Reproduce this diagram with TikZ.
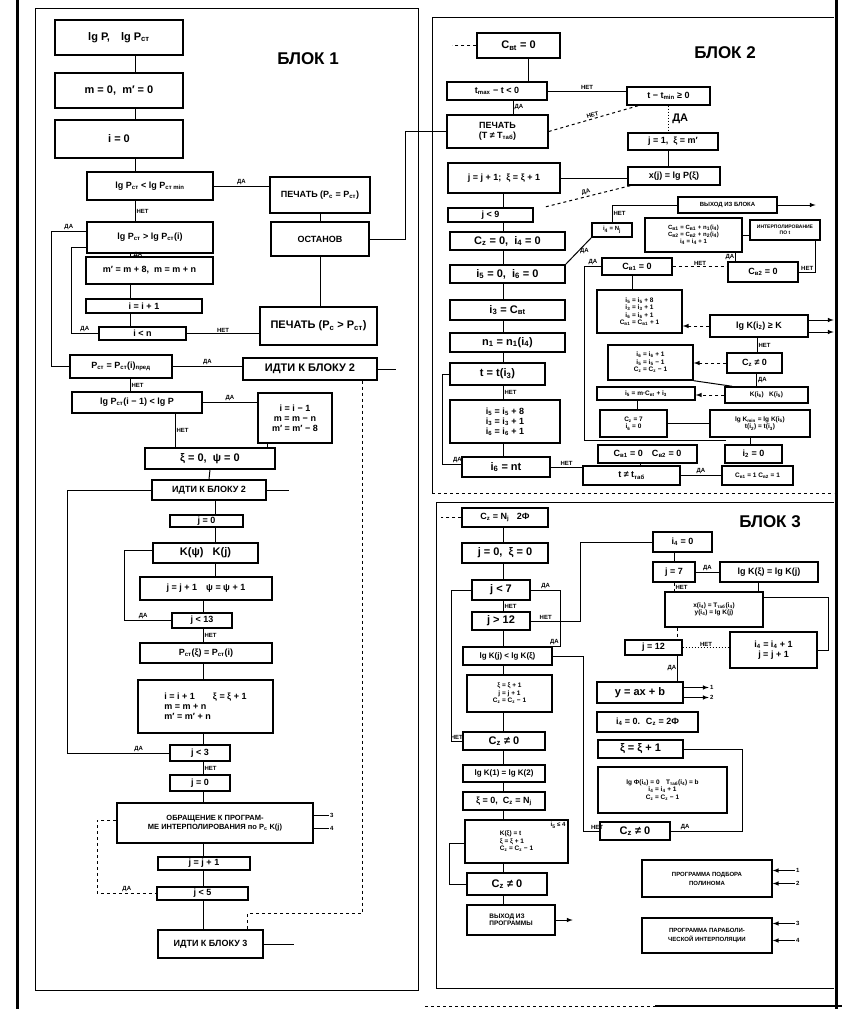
\documentclass[tikz,border=0pt]{standalone}
\usepackage{fontspec}
\setmainfont{Liberation Sans}
\usepackage{tikz}
\usetikzlibrary{shapes,arrows,positioning}
\newcommand{\ix}[1]{\textsubscript{#1}}

\begin{document}
\begin{tikzpicture}[x=1pt, y=-1pt, >=latex]
    \tikzstyle{box} = [rectangle, draw=black, line width=1.4pt, inner sep=1pt, align=center, font=\bfseries\fontsize{9}{10}\selectfont]
    \tikzstyle{bigbox} = [box, font=\bfseries\fontsize{11}{12}\selectfont]
    \tikzstyle{mbox} = [box, font=\bfseries\fontsize{8}{9}\selectfont]
    \tikzstyle{sbox} = [box, font=\bfseries\fontsize{6.5}{7.5}\selectfont]
    \tikzstyle{tbox} = [box, font=\bfseries\fontsize{5}{6}\selectfont]
    \tikzstyle{lbl} = [inner sep=1pt, font=\bfseries\fontsize{6}{6}\selectfont]
    \tikzstyle{wire} = [line width=1pt]
    \tikzstyle{frame} = [line width=1pt]
    \tikzstyle{title} = [font=\bfseries\fontsize{17}{17}\selectfont]

    \useasboundingbox (0,0) rectangle (842,1009);

    % page and block frames
    \draw[line width=3pt] (17,0) -- (17,1009);
    \draw[line width=3pt] (836,0) -- (836,1009);
    \draw[line width=2.5pt] (655,1006) -- (842,1006);
    \draw[frame, dashed] (425,1006) -- (655,1006);
    \draw[frame] (35,8) rectangle (418,990);
    \draw[frame] (432,493) -- (432,17) -- (834,17);
    \draw[frame, dashed] (432,493) -- (834,493);
    \draw[frame] (436,988) -- (436,502) -- (834,502);
    \draw[frame] (436,988) -- (834,988);

    \node[title] (t1) at (308,59) {БЛОК 1};
    \node[title] (t2) at (725,53) {БЛОК 2};
    \node[title] (t3) at (770,522) {БЛОК 3};

    % block 1
    \node[bigbox, minimum width=128, minimum height=35] (lgp) at (119,37.5) {lg P,\quad lg P\ix{ст}};
    \node[bigbox, minimum width=128, minimum height=35] (mm) at (119,90.5) {m = 0,\; m′ = 0};
    \node[bigbox, minimum width=128, minimum height=38] (i0) at (119,139) {i = 0};
    \node[box, minimum width=126, minimum height=28] (b4) at (150,186) {lg P\ix{ст} < lg P\ix{ст min}};
    \node[box, minimum width=100, minimum height=36] (p1) at (320,195) {ПЕЧАТЬ (P\ix{с} = P\ix{ст})};
    \node[box, minimum width=98, minimum height=34] (ost) at (320,239) {ОСТАНОВ};
    \node[box, minimum width=126, minimum height=31] (b5) at (150,237.5) {lg P\ix{ст} > lg P\ix{ст}(i)};
    \node[box, minimum width=127, minimum height=27] (b6) at (149.5,270.5) {m′ = m + 8,\; m = m + n};
    \node[box, minimum width=116, minimum height=14] (b7) at (144,306) {i = i + 1};
    \node[box, minimum width=87, minimum height=13] (b8) at (142.5,333.5) {i < n};
    \node[bigbox, minimum width=117, minimum height=38] (p2) at (318.5,326) {ПЕЧАТЬ (P\ix{с} > P\ix{ст})};
    \node[box, minimum width=102, minimum height=23] (b9) at (121,366.5) {P\ix{ст} = P\ix{ст}(i)\ix{пред}};
    \node[bigbox, minimum width=134, minimum height=22] (g2a) at (310,369) {ИДТИ К БЛОКУ 2};
    \node[box, minimum width=130, minimum height=21] (b10) at (137,402.5) {lg P\ix{ст}(i − 1) < lg P};
    \node[box, minimum width=74, minimum height=50] (b11) at (295,418) {i = i − 1\\ m = m − n\\ m′ = m′ − 8};
    \node[bigbox, minimum width=130, minimum height=21] (b12) at (210,458.5) {ξ = 0,\; ψ = 0};
    \node[box, minimum width=114, minimum height=20] (g2b) at (209,490) {ИДТИ К БЛОКУ 2};
    \node[box, minimum width=73, minimum height=12] (b13) at (206.5,521) {j = 0};
    \node[bigbox, minimum width=105, minimum height=20] (b14) at (205.5,553) {K(ψ)\;\; K(j)};
    \node[box, minimum width=132, minimum height=23] (b15) at (206,588.5) {j = j + 1\quad ψ = ψ + 1};
    \node[box, minimum width=60, minimum height=15] (b16) at (202,620.5) {j < 13};
    \node[box, minimum width=132, minimum height=20] (b17) at (206,653) {P\ix{ст}(ξ) = P\ix{ст}(i)};
    \node[box, minimum width=135, minimum height=53, align=left] (b18) at (205.5,706.5) {i = i + 1\qquad ξ = ξ + 1\\ m = m + n\\ m′ = m′ + n};
    \node[box, minimum width=60, minimum height=16] (b19) at (200,753) {j < 3};
    \node[box, minimum width=60, minimum height=16] (b20) at (200,783) {j = 0};
    \node[box, minimum width=196, minimum height=40, font=\bfseries\fontsize{7.5}{9}\selectfont] (b21) at (215,823) {ОБРАЩЕНИЕ К ПРОГРАМ-\\МЕ ИНТЕРПОЛИРОВАНИЯ по P\ix{с} K(j)};
    \node[box, minimum width=92, minimum height=13] (b22) at (204,863.5) {j = j + 1};
    \node[box, minimum width=91, minimum height=13] (b23) at (202.5,893.5) {j < 5};
    \node[box, minimum width=105, minimum height=28] (g3) at (210.5,944) {ИДТИ К БЛОКУ 3};

    \coordinate (k1) at (135,0);
    \coordinate (k2) at (130,0);
    \coordinate (k3) at (215,0);
    \coordinate (k4) at (203,0);
    \coordinate (k5) at (175,0);

    \draw[wire] (lgp.south -| k1) -- (mm.north -| k1);
    \draw[wire] (mm.south -| k1) -- (i0.north -| k1);
    \draw[wire] (i0.south -| k1) -- (b4.north -| k1);
    \draw[wire] (b4.south -| k1) -- (b5.north -| k1) node[lbl, midway, right] {НЕТ};
    \draw[wire] (b4.east) -- (b4.east -| p1.west) node[lbl, midway, above] {ДА};
    \draw[wire] (p1.south) -- (ost.north);
    \draw[wire] (ost.south) -- (ost.south |- p2.north);
    \draw[wire] (b5.south -| k2) -- (b6.north -| k2) node[lbl, midway, right, xshift=2] {ДА};
    \draw[wire] (b6.south -| k2) -- (b7.north -| k2);
    \draw[wire] (b7.south -| k2) -- (b8.north -| k2);
    \draw[wire] (b8.west) -- ++(-27,0) node[lbl, midway, above] {ДА} |- ([yshift=6]b5.south west);
    \draw[wire] ([yshift=-10]b5.north west) -- ++(-35,0) node[lbl, midway, above] {ДА} |- (b9.west);
    \draw[wire] (b8.east) -- (b8.east -| p2.west) node[lbl, midway, above] {НЕТ};
    \draw[wire] (b9.east) -- (b9.east -| g2a.west) node[lbl, midway, above] {ДА};
    \draw[wire] (g2a.east) -- ++(18,0);
    \draw[wire, dashed] ([xshift=52]g2a.south) -- ++(0,533) -| ([xshift=37]g3.north);
    \draw[wire] (b9.south -| k2) -- (b10.north -| k2) node[lbl, midway, right] {НЕТ};
    \draw[wire] (b10.east) -- (b10.east -| b11.west) node[lbl, midway, above] {ДА};
    \draw[wire] (b10.south -| k5) -- (b12.north -| k5) node[lbl, midway, right] {НЕТ};
    \draw[wire] ([xshift=-28]b11.south) -- ([xshift=-28]b11.south |- b12.north);
    \draw[wire] (b12.south) -- (g2b.north);
    \draw[wire] (g2b.east) -- ++(22,0);
    \draw[wire] (g2b.west) -- ++(-84,0) |- (b19.west) node[lbl, pos=0.85, above] {ДА};
    \draw[wire] (g2b.south -| k3) -- (b13.north -| k3);
    \draw[wire] (b13.south -| k3) -- (b14.north -| k3);
    \draw[wire] (b14.south -| k3) -- (b15.north -| k3);
    \draw[wire] ([yshift=3]b14.west) -- ++(-28,0) |- (b16.west) node[lbl, pos=0.7, above] {ДА};
    \draw[wire] (b15.south -| k4) -- (b16.north -| k4);
    \draw[wire] (b16.south -| k4) -- (b17.north -| k4) node[lbl, midway, right] {НЕТ};
    \draw[wire] (b17.south -| k4) -- (b18.north -| k4);
    \draw[wire] (b18.south -| k4) -- (b19.north -| k4);
    \draw[wire] (b19.south -| k4) -- (b20.north -| k4) node[lbl, midway, right] {НЕТ};
    \draw[wire] (b20.south -| k4) -- (b21.north -| k4);
    \draw[wire] (b21.south -| k4) -- (b22.north -| k4);
    \draw[wire] (b22.south -| k4) -- (b23.north -| k4);
    \draw[wire] (b23.south -| k4) -- (g3.north -| k4);
    \draw[wire] ([yshift=8]b21.east) -- ++(15,0) node[lbl, right] {3};
    \draw[wire] ([yshift=-5]b21.east) -- ++(15,0) node[lbl, right] {4};
    \draw[wire, dashed] ([yshift=3]b21.west) -- ++(-19,0) |- (b23.west) node[lbl, pos=0.75, above] {ДА};
    \draw[wire] (g3.east) -- ++(30,0);

    % block 2
    \node[bigbox, minimum width=83, minimum height=25] (c0) at (518.5,45.5) {C\ix{вt} = 0};
    \node[box, minimum width=100, minimum height=18] (c1) at (497,91) {t\ix{max} − t < 0};
    \node[box, minimum width=101, minimum height=33] (pT) at (497.5,131.5) {ПЕЧАТЬ\\(T ≠ T\ix{таб})};
    \node[box, minimum width=83, minimum height=18] (tmin) at (668.5,96) {t − t\ix{min} ≥ 0};
    \node[box, minimum width=90, minimum height=17] (j1) at (673,141.5) {j = 1,\; ξ = m′};
    \node[box, minimum width=92, minimum height=18] (xj) at (674,176) {x(j) = lg P(ξ)};
    \node[box, minimum width=112, minimum height=30] (jj) at (504,178) {j = j + 1;\; ξ = ξ + 1};
    \node[box, minimum width=85, minimum height=14] (j9) at (490.5,215) {j < 9};
    \node[bigbox, minimum width=115, minimum height=18] (cz) at (507.5,241) {C\ix{z} = 0,\; i\ix4 = 0};
    \node[bigbox, minimum width=115, minimum height=18] (i56) at (507.5,274) {i\ix5 = 0,\; i\ix6 = 0};
    \node[bigbox, minimum width=115, minimum height=20] (i3) at (507.5,310) {i\ix3 = C\ix{вt}};
    \node[bigbox, minimum width=115, minimum height=19] (n1) at (507.5,342.5) {n\ix1 = n\ix1(i\ix4)};
    \node[bigbox, minimum width=95, minimum height=22] (tt) at (497.5,374) {t = t(i\ix3)};
    \node[box, minimum width=110, minimum height=43] (inc) at (505,421.5) {i\ix5 = i\ix5 + 8\\ i\ix3 = i\ix3 + 1\\ i\ix6 = i\ix6 + 1};
    \node[bigbox, minimum width=88, minimum height=20] (i6n) at (506,467) {i\ix6 = nt};
    \node[tbox, minimum width=99, minimum height=16, font=\bfseries\fontsize{6}{7}\selectfont] (vyx) at (727.5,205) {ВЫХОД ИЗ БЛОКА};
    \node[tbox, minimum width=40, minimum height=14, font=\bfseries\fontsize{6}{7}\selectfont] (i4N) at (612,230) {i\ix4 = N\ix j};
    \node[tbox, minimum width=97, minimum height=34, font=\bfseries\fontsize{6}{7}\selectfont] (cin) at (693.5,235) {C\ix{в1} = C\ix{в1} + n\ix1(i\ix4)\\ C\ix{в2} = C\ix{в2} + n\ix2(i\ix4)\\ i\ix4 = i\ix4 + 1};
    \node[tbox, minimum width=70, minimum height=20] (ipol) at (785,230) {ИНТЕРПОЛИРОВАНИЕ\\ ПО t};
    \node[box, minimum width=70, minimum height=17] (cv1) at (637,266.5) {C\ix{в1} = 0};
    \node[box, minimum width=70, minimum height=20] (cv2) at (763,272) {C\ix{в2} = 0};
    \node[sbox, minimum width=85, minimum height=43] (ii5) at (639.5,311.5) {i\ix5 = i\ix5 + 8\\ i\ix3 = i\ix3 + 1\\ i\ix6 = i\ix6 + 1\\ C\ix{в1} = C\ix{в1} + 1};
    \node[box, minimum width=98, minimum height=22] (lgK) at (759,326) {lg K(i\ix2) ≥ K};
    \node[sbox, minimum width=85, minimum height=35] (ii6) at (650.5,362.5) {i\ix6 = i\ix6 + 1\\ i\ix5 = i\ix5 − 1\\ C\ix{z} = C\ix{z} − 1};
    \node[box, minimum width=55, minimum height=20] (cn0) at (754.5,363) {C\ix{z} ≠ 0};
    \node[sbox, minimum width=98, minimum height=13] (i15) at (646,393.5) {i\ix5 = m·C\ix{вt} + i\ix3};
    \node[sbox, minimum width=83, minimum height=16] (Kii) at (766.5,395) {K(i\ix6)\;\; K(i\ix5)};
    \node[sbox, minimum width=67, minimum height=27] (cz7) at (633.5,423.5) {C\ix{z} = 7\\ i\ix6 = 0};
    \node[sbox, minimum width=100, minimum height=27] (lgKm) at (760,423.5) {lg K\ix{min} = lg K(i\ix5)\\ t(i\ix2) = t(i\ix3)};
    \node[box, minimum width=99, minimum height=18] (cc0) at (647.5,454) {C\ix{в1} = 0\quad C\ix{в2} = 0};
    \node[box, minimum width=57, minimum height=18] (i2) at (753.5,454) {i\ix2 = 0};
    \node[box, minimum width=97, minimum height=19] (tnt) at (631.5,475.5) {t ≠ t\ix{таб}};
    \node[sbox, minimum width=71, minimum height=19] (cc1) at (757.5,475.5) {C\ix{в1} = 1 C\ix{в2} = 1};

    \coordinate (k6) at (503,0);

    \draw[wire] (ost.east) -- ++(36,0) |- (pT.west);
    \draw[wire, dashed] (c0.west) -- ++(-24,0);
    \draw[wire] ([xshift=10]c0.south) -- ([xshift=10]c0.south |- c1.north);
    \draw[wire] ([xshift=16]c1.south) -- ([xshift=16]c1.south |- pT.north) node[lbl, midway, right] {ДА};
    \draw[wire] (c1.east) -- (c1.east -| tmin.west) node[lbl, midway, above] {НЕТ};
    \draw[wire, dashed] (pT.east) -- ([xshift=12]tmin.south west) node[lbl, midway, above, sloped] {НЕТ};
    \draw[wire, dotted] (tmin.south) -- (tmin.south |- j1.north) node[midway, right, font=\bfseries\fontsize{11}{11}\selectfont] {ДА};
    \draw[wire] (j1.south -| tmin.south) -- (xj.north -| tmin.south);
    \draw[wire] (jj.east) -- (jj.east -| xj.west);
    \draw[wire, dashed] ([xshift=3]xj.south west) -- ([xshift=10]j9.north east) node[lbl, midway, above, sloped] {ДА};
    \draw[wire] (jj.south -| k6) -- (j9.north -| k6);
    \draw[wire] (j9.south -| k6) -- (cz.north -| k6);
    \draw[wire] (cz.south -| k6) -- (i56.north -| k6);
    \draw[wire] (i56.south -| k6) -- (i3.north -| k6);
    \draw[wire] (i3.south -| k6) -- (n1.north -| k6);
    \draw[wire] (n1.south -| k6) -- (tt.north -| k6);
    \draw[wire] (tt.south -| k6) -- (inc.north -| k6) node[lbl, midway, right] {НЕТ};
    \draw[wire] (inc.south -| k6) -- (i6n.north -| k6);
    \draw[wire] (tt.west) -- ++(-7,0) |- ([yshift=3]i6n.west) node[lbl, pos=0.9, above] {ДА};
    \draw[wire] (i6n.east) -- (i6n.east -| tnt.west) node[lbl, midway, above] {НЕТ};
    \draw[wire] (tnt.east) -- (tnt.east -| cc1.west) node[lbl, midway, above] {ДА};
    \draw[wire] (i56.north east) -- (i4N.south west) node[lbl, midway, right] {ДА};
    \draw[wire] (i4N.north) |- (vyx.west) node[lbl, pos=0.25, right] {НЕТ};
    \draw[wire, ->] (vyx.east) -- ++(38,0);
    \draw[wire] (cin.east) -- (cin.east -| ipol.west);
    \draw[wire] ([xshift=-7]cin.south east) -- ([xshift=-7]cin.south east |- cv2.north) node[lbl, midway, left] {ДА};
    \draw[wire] ([xshift=-5]ipol.south east) |- (cv2.east) node[lbl, pos=0.75, above] {НЕТ};
    \draw[wire, dashed] (cv1.east) -- (cv1.east -| cv2.west) node[lbl, midway, above] {НЕТ};
    \draw[wire] (cv1.west) -- ++(-17,0) node[lbl, midway, above] {ДА} |- ([xshift=2,yshift=4]i2.north west);
    \draw[wire] ([xshift=-5]cv1.south) -- ([xshift=-5]cv1.south |- ii5.north);
    \draw[wire, dashed, ->] (lgK.west) -- (lgK.west -| ii5.east);
    \draw[wire, ->] ([yshift=6]lgK.east) -- ++(25,0);
    \draw[wire, ->] ([yshift=-6]lgK.east) -- ++(25,0);
    \draw[wire] ([xshift=-2]lgK.south) -- ([xshift=-2]lgK.south |- cn0.north) node[lbl, midway, right] {НЕТ};
    \draw[wire, dashed, ->] (cn0.west) -- (cn0.west -| ii6.east);
    \draw[wire] ([xshift=2]cn0.south) -- ([xshift=2]cn0.south |- Kii.north) node[lbl, midway, right] {ДА};
    \draw[wire] (ii6.south east) -- ([xshift=8]Kii.north west);
    \draw[wire, dashed, ->] (Kii.west) -- (Kii.west -| i15.east);
    \draw[wire] ([xshift=-9]i15.south) -- ([xshift=-9]i15.south |- cz7.north);
    \draw[wire] (cz7.east) -- (cz7.east -| lgKm.west);
    \draw[wire] ([xshift=-10]lgKm.south) -- ([xshift=-10]lgKm.south |- i2.north);
    \draw[wire] ([xshift=-7]cc0.south) -- ([xshift=-7]cc0.south |- tnt.north);

    % block 3
    \node[box, minimum width=86, minimum height=19] (cN) at (505,517.5) {C\ix{z} = N\ix{j}\;\; 2Ф};
    \node[bigbox, minimum width=86, minimum height=20] (j0) at (505,553) {j = 0,\; ξ = 0};
    \node[bigbox, minimum width=58, minimum height=20] (j7) at (501,590) {j < 7};
    \node[bigbox, minimum width=58, minimum height=18] (j12) at (501,621) {j > 12};
    \node[mbox, minimum width=89, minimum height=18] (lgKj) at (507.5,656) {lg K(j) < lg K(ξ)};
    \node[sbox, minimum width=85, minimum height=37] (xi) at (509.5,693.5) {ξ = ξ + 1\\ j = j + 1\\ C\ix{z} = C\ix{z} − 1};
    \node[bigbox, minimum width=82, minimum height=18] (cb0) at (504,741) {C\ix{z} ≠ 0};
    \node[mbox, minimum width=82, minimum height=17] (lgK12) at (504,773.5) {lg K(1) = lg K(2)};
    \node[box, minimum width=82, minimum height=18] (xC) at (504,801) {ξ = 0,\; C\ix{z} = N\ix j};
    \node[sbox, minimum width=103, minimum height=43, align=left] (Kx) at (516.5,841.5) {K(ξ) = t\\ ξ = ξ + 1\\ C\ix{z} = C\ix{z} − 1};
    \node[lbl, anchor=north east] (kxn) at ([xshift=-2,yshift=-2]Kx.north east) {i\ix5 ≤ 4};
    \node[bigbox, minimum width=80, minimum height=22] (cb1) at (507,884) {C\ix{z} ≠ 0};
    \node[sbox, minimum width=88, minimum height=30, align=left] (vp) at (511,920) {ВЫХОД ИЗ\\ ПРОГРАММЫ};
    \node[box, minimum width=59, minimum height=20] (i40) at (682.5,542) {i\ix4 = 0};
    \node[box, minimum width=42, minimum height=20] (j7b) at (674,572) {j = 7};
    \node[box, minimum width=98, minimum height=20] (lgKx) at (769,572) {lg K(ξ) = lg K(j)};
    \node[sbox, minimum width=98, minimum height=35] (xi4) at (714,609.5) {x(i\ix4) = T\ix{таб}(i\ix4)\\ y(i\ix4) = lg K(j)};
    \node[box, minimum width=57, minimum height=15] (j12b) at (653.5,647.5) {j = 12};
    \node[box, minimum width=87, minimum height=36] (ii4) at (773.5,650) {i\ix4 = i\ix4 + 1\\ j = j + 1};
    \node[bigbox, minimum width=86, minimum height=21] (yab) at (640,692.5) {y = ax + b};
    \node[box, minimum width=101, minimum height=20] (i4C) at (647.5,722) {i\ix4 = 0.\; C\ix{z} = 2Ф};
    \node[bigbox, minimum width=85, minimum height=18] (xi1) at (640.5,749) {ξ = ξ + 1};
    \node[sbox, minimum width=129, minimum height=46] (lgF) at (662.5,790) {lg Ф(i\ix4) = 0\quad T\ix{таб}(i\ix4) = b\\ i\ix4 = i\ix4 + 1\\ C\ix{z} = C\ix{z} − 1};
    \node[bigbox, minimum width=70, minimum height=18] (cz0) at (635,831) {C\ix{z} ≠ 0};
    \node[tbox, minimum width=130, minimum height=37, font=\bfseries\fontsize{6}{9}\selectfont] (pp) at (707,878.5) {ПРОГРАММА ПОДБОРА\\ ПОЛИНОМА};
    \node[tbox, minimum width=130, minimum height=35, font=\bfseries\fontsize{6}{9}\selectfont] (pi) at (707,935.5) {ПРОГРАММА ПАРАБОЛИ-\\ ЧЕСКОЙ ИНТЕРПОЛЯЦИИ};

    \draw[wire, dashed] (cN.west) -- ++(-20,0);
    \draw[wire] (cN.south -| k6) -- (j0.north -| k6);
    \draw[wire] (j0.south -| k6) -- (j7.north -| k6);
    \draw[wire] (j7.south -| k6) -- (j12.north -| k6) node[lbl, midway, right] {НЕТ};
    \draw[wire] (j12.south -| k6) -- (lgKj.north -| k6);
    \draw[wire] (lgKj.south -| k6) -- (xi.north -| k6);
    \draw[wire] (xi.south -| k6) -- (cb0.north -| k6);
    \draw[wire] (cb0.south -| k6) -- (lgK12.north -| k6);
    \draw[wire] (lgK12.south -| k6) -- (xC.north -| k6);
    \draw[wire] (xC.south -| k6) -- (Kx.north -| k6);
    \draw[wire] (Kx.south -| k6) -- (cb1.north -| k6);
    \draw[wire] (cb1.south -| k6) -- (vp.north -| k6);
    \draw[wire] (j7.east) -- ++(30,0) node[lbl, midway, above] {ДА} |- (lgKj.north east) node[lbl, pos=0.9, above] {ДА};
    \draw[wire] (j12.east) -- ++(50,0) node[lbl, pos=0.3, above] {НЕТ} |- (i40.west);
    \draw[wire] (lgKj.east) -- ++(31,0) |- (cz0.west) node[lbl, pos=0.93, above] {НЕТ};
    \draw[wire] (cb0.west) -- ++(-11,0) node[lbl, midway, above] {НЕТ} |- (j7.west);
    \draw[wire] (cb1.west) -- ++(-17,0) |- ([yshift=-2]Kx.west);
    \draw[wire, ->] (vp.east) -- ++(17,0);
    \draw[wire] ([xshift=-8]i40.south) -- ([xshift=-8]i40.south |- j7b.north);
    \draw[wire] (j7b.east) -- (j7b.east -| lgKx.west) node[lbl, midway, above] {ДА};
    \draw[wire, dashed] (j7b.south) -- (j7b.south |- xi4.north) node[lbl, midway, right] {НЕТ};
    \draw[wire] ([xshift=-11]lgKx.south) -- ([xshift=-11]lgKx.south |- xi4.north);
    \draw[wire] ([yshift=12]xi4.east) -- ++(65,0) |- (ii4.east);
    \draw[wire, dashed] ([xshift=13]xi4.south west) -- ([xshift=13]xi4.south west |- j12b.north);
    \draw[wire, dotted] (j12b.east) -- (j12b.east -| ii4.west) node[lbl, midway, above] {НЕТ};
    \draw[wire] ([xshift=-5]j12b.south east) -- ([xshift=-5]j12b.south east |- yab.north) node[lbl, midway, left] {ДА};
    \draw[wire, ->] ([yshift=5]yab.east) -- ++(25,0) node[lbl, right] {1};
    \draw[wire, ->] ([yshift=-5]yab.east) -- ++(25,0) node[lbl, right] {2};
    \draw[wire] (xi1.east) -- ++(59,0) |- (cz0.east) node[lbl, pos=0.9, above] {ДА};
    \draw[wire, <-] ([yshift=8]pp.east) -- ++(22,0) node[lbl, right] {1};
    \draw[wire, <-] ([yshift=-5]pp.east) -- ++(22,0) node[lbl, right] {2};
    \draw[wire, <-] ([yshift=12]pi.east) -- ++(22,0) node[lbl, right] {3};
    \draw[wire, <-] ([yshift=-5]pi.east) -- ++(22,0) node[lbl, right] {4};
\end{tikzpicture}
\end{document}
